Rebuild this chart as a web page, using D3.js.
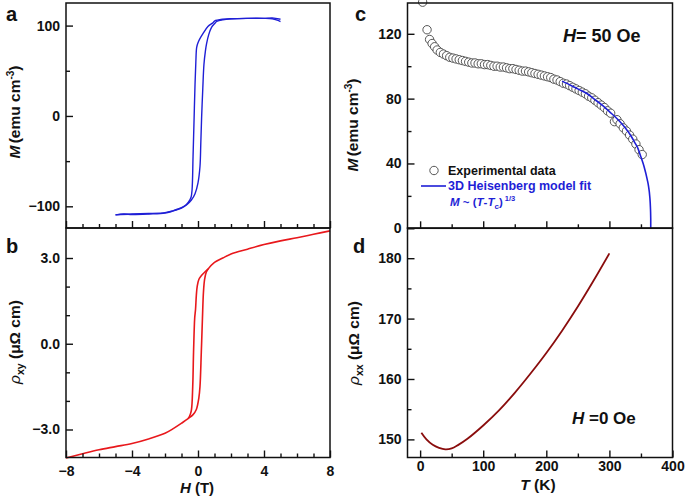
<!DOCTYPE html>
<html><head><meta charset="utf-8">
<script src="https://cdn.jsdelivr.net/npm/d3@7"></script>
<style>
body{margin:0;background:#fff}
svg text{font-family:"Liberation Sans",Arial,sans-serif;font-weight:bold;fill:#111}
</style>
</head><body>
<svg id="chart" width="685" height="500"></svg>
<script>
// ---------- Panel a: M(H) hysteresis ----------
const aAscH  = [-5,-4.5,-4,-3,-2,-1.5,-1.0,-0.7,-0.4,-0.18,0.0,0.12,0.17,0.22,0.29,0.36,0.45,0.52,0.65,0.82,1.0,1.13,1.5,2,3,4,4.5,5];
const aAscM  = [-109.5,-108.5,-109,-108.5,-107.5,-105,-102,-98.5,-93,-86,-74,-56,-30,-1,30,57,72,80,90,98,102,104.5,106.5,107.5,108,108,108.5,107];
const aDescH = [5,4.8,4.5,4,3,2,1.5,1.0,0.9,0.6,0.3,0.1,0.0,-0.08,-0.13,-0.18,-0.24,-0.3,-0.36,-0.42,-0.5,-0.7,-1.0,-1.3,-1.6,-2,-3,-4,-5];
const aDescM = [104.5,106,107.5,108,108,107.5,107,105,103,99,91,85,81,76,60,35,-5,-45,-82,-90,-93,-98,-101.5,-103.5,-105.5,-107,-108,-108.5,-109.5];
const aXMajor = [-8,-4,0,4,8];
const aXMinor = [-7,-6,-5,-3,-2,-1,1,2,3,5,6,7];
const aYMajor = [-100,0,100];
const aYMinor = [-50,50];

// ---------- Panel b: rho_xy(H) ----------
const bAscH   = [-8,-7,-6,-5,-4,-3,-2,-1.5,-1,-0.6,-0.3,-0.1,0.05,0.12,0.2,0.27,0.33,0.4,0.5,0.62,1,1.5,2,3,4,5,6,7,8];
const bAscR   = [-4.0,-3.85,-3.71,-3.6,-3.49,-3.33,-3.13,-2.97,-2.78,-2.62,-2.48,-2.3,-1.9,-1.5,-0.3,0.9,1.8,2.25,2.5,2.62,2.85,3.0,3.14,3.31,3.47,3.6,3.71,3.83,3.95];
const bDescH  = [0.62,0.4,0.2,0.05,-0.05,-0.1,-0.15,-0.2,-0.27,-0.32,-0.4,-0.5,-0.6];
const bDescR  = [2.62,2.5,2.38,2.25,2.0,1.7,1.2,0.9,-0.3,-1.5,-2.32,-2.52,-2.62];
const bXMajor = [-8,-4,0,4,8];
const bXMinor = [-7,-6,-5,-3,-2,-1,1,2,3,5,6,7];
const bYMajor = [-3,0,3];
const bYMinor = [-2,-1,1,2];

// ---------- Panel c: M(T) ----------
const cT = [4,11,15,19,23,27,32,37,42,47,52,57,62,67,72,77,82,87,92,97,102,107,112,117,122,127,132,137,142,147,152,157,162,167,172,177,182,187,192,197,202,207,212,217,222,227,232,237,242,247,252,257,262,267,272,277,282,287,292,297,302,308,312,317,322,327,332,337,342,347,352];
const cM = [139.5,122.5,116.5,114,112,110,108.5,107.5,106.5,105.5,105,104.5,104,103.5,103,102.5,102,102,101.5,101.5,101,101,100.5,100,100,99.5,99.5,99,98.5,98.5,98,97.5,97,97,96.5,96,95.5,95,94.5,94,93.5,93,92,91.5,90.5,89.5,89,88,87,86,85,84,83,81.5,80.5,79,77.5,76,74.5,72.5,71,65.8,67,64.5,62,60,57.5,55,52,48.5,45.5];
const cFitT = [225,240,250,265,275,290,300,315,325,335,340,345,350,355,360,362,364,365,365.5,365.5];
const cFitM = [90.8,88,86,83,80,75.5,72,66.5,62,56.5,53,49.5,44,38,30,26,19.5,13,6,0];
const cXMajor = [0,100,200,300];
const cXMinor = [50,150,250,350];
const cYMajor = [0,40,80,120];
const cYMinor = [20,60,100];

// ---------- Panel d: rho_xx(T) ----------
const dT = [2,10,20,30,40,50,60,75,100,125,150,175,200,225,250,275,300];
const dR = [151.1,150.0,149.1,148.6,148.35,148.5,149.05,150.1,152.3,154.8,157.7,160.9,164.3,168.0,172.0,176.3,180.8];
const dXMajor = [0,100,200,300,400];
const dXMinor = [50,150,250,350];
const dYMajor = [150,160,170,180];
const dYMinor = [155,165,175];

const BLUE = "#1f1fd6", RED = "#e8181c", DRED = "#8a0d0d";
const svg = d3.select("#chart");

function drawAxes(x, y, o) {
  const g = svg.append("g");
  const yb = y.range()[0], xl = x.range()[0];
  g.append("g").attr("transform", `translate(0,${yb})`)
    .call(d3.axisBottom(x).tickValues(o.xMajor).tickSizeInner(-7).tickSizeOuter(0).tickPadding(o.xPad || 8)
      .tickFormat(o.xLabels ? d3.format("d") : () => ""));
  g.append("g").attr("transform", `translate(0,${yb})`)
    .call(d3.axisBottom(x).tickValues(o.xMinor).tickSizeInner(-4).tickSizeOuter(0).tickFormat(() => ""));
  g.append("g").attr("transform", `translate(${xl},0)`)
    .call(d3.axisLeft(y).tickValues(o.yMajor).tickSizeInner(-7).tickSizeOuter(0).tickPadding(6).tickFormat(o.yFmt));
  g.append("g").attr("transform", `translate(${xl},0)`)
    .call(d3.axisLeft(y).tickValues(o.yMinor).tickSizeInner(-4).tickSizeOuter(0).tickFormat(() => ""));
  g.selectAll(".domain").remove();
  g.selectAll(".tick line").attr("stroke", "#111").attr("stroke-width", 1.4);
  g.selectAll(".tick text").attr("font-size", "14px").attr("font-family", "Liberation Sans, Arial, sans-serif").attr("font-weight", "bold").attr("fill", "#111");
  svg.append("rect").attr("x", x.range()[0]).attr("y", y.range()[1])
    .attr("width", x.range()[1] - x.range()[0]).attr("height", y.range()[0] - y.range()[1])
    .attr("fill", "none").attr("stroke", "#111").attr("stroke-width", 1.5);
}

// ---------- scales ----------
const xa = d3.scaleLinear([-8, 8], [66, 330]);
const ya = d3.scaleLinear([-124, 125], [228, 3]);
const xb = d3.scaleLinear([-8, 8], [66, 330]);
const yb = d3.scaleLinear([-3.98, 4.05], [457.5, 228]);
const xc = d3.scaleLinear([-20, 400], [407.5, 672.5]);
const yc = d3.scaleLinear([0, 139], [228.3, 3]);
const xd = d3.scaleLinear([-20, 400], [407.5, 672.5]);
const yd = d3.scaleLinear([147, 185], [457.5, 228]);

// ---------- panel a ----------
const lineA = d3.line().x(d => xa(d[0])).y(d => ya(d[1])).curve(d3.curveCatmullRom.alpha(0.5));
svg.append("path").datum(aAscH.map((h, i) => [h, aAscM[i]])).attr("d", lineA)
  .attr("fill", "none").attr("stroke", BLUE).attr("stroke-width", 1.4);
svg.append("path").datum(aDescH.map((h, i) => [h, aDescM[i]])).attr("d", lineA)
  .attr("fill", "none").attr("stroke", BLUE).attr("stroke-width", 1.4);
drawAxes(xa, ya, {xMajor: aXMajor, xMinor: aXMinor, yMajor: aYMajor, yMinor: aYMinor, xLabels: false, yFmt: d3.format("d")});

// ---------- panel b ----------
const lineB = d3.line().x(d => xb(d[0])).y(d => yb(d[1])).curve(d3.curveCatmullRom.alpha(0.5));
svg.append("path").datum(bAscH.map((h, i) => [h, bAscR[i]])).attr("d", lineB)
  .attr("fill", "none").attr("stroke", RED).attr("stroke-width", 1.6);
svg.append("path").datum(bDescH.map((h, i) => [h, bDescR[i]])).attr("d", lineB)
  .attr("fill", "none").attr("stroke", RED).attr("stroke-width", 1.6);
drawAxes(xb, yb, {xMajor: bXMajor, xMinor: bXMinor, yMajor: bYMajor, yMinor: bYMinor, xLabels: true, xPad: 8.5, yFmt: d3.format(".1f")});

// ---------- panel c ----------
svg.append("g").selectAll("circle").data(cT.map((t, i) => [t, cM[i]])).join("circle")
  .attr("cx", d => xc(d[0])).attr("cy", d => yc(d[1])).attr("r", 4.2)
  .attr("fill", "#fff").attr("stroke", "#444").attr("stroke-width", 0.9);
const lineC = d3.line().x(d => xc(d[0])).y(d => yc(d[1])).curve(d3.curveMonotoneX);
svg.append("path").datum(cFitT.map((t, i) => [t, cFitM[i]])).attr("d", lineC)
  .attr("fill", "none").attr("stroke", BLUE).attr("stroke-width", 1.6);
drawAxes(xc, yc, {xMajor: cXMajor, xMinor: cXMinor, yMajor: cYMajor, yMinor: cYMinor, xLabels: false, yFmt: d3.format("d")});

// ---------- panel d ----------
const lineD = d3.line().x(d => xd(d[0])).y(d => yd(d[1])).curve(d3.curveCatmullRom.alpha(0.5));
svg.append("path").datum(dT.map((t, i) => [t, dR[i]])).attr("d", lineD)
  .attr("fill", "none").attr("stroke", DRED).attr("stroke-width", 1.8);
drawAxes(xd, yd, {xMajor: dXMajor, xMinor: dXMinor, yMajor: dYMajor, yMinor: dYMinor, xLabels: true, xPad: 3.5, yFmt: d3.format("d")});

// ---------- texts ----------
function label(x, y, size, parts, opts = {}) {
  const t = svg.append("text").attr("x", x).attr("y", y).attr("font-size", size);
  if (opts.rotate) t.attr("transform", `rotate(-90,${x},${y})`);
  if (opts.anchor) t.attr("text-anchor", opts.anchor);
  if (opts.fill) t.style("fill", opts.fill);
  parts.forEach(p => {
    const s = t.append("tspan").text(p.t);
    if (p.i) s.attr("font-style", "italic");
    if (p.n) s.attr("font-weight", "normal");
    if (p.fs) s.attr("font-size", p.fs);
    if (p.dy) s.attr("dy", p.dy);
    if (p.dx) s.attr("dx", p.dx);
  });
  return t;
}
label(6, 21, 20, [{t: "a"}]);
label(6, 253, 20, [{t: "b"}]);
label(355, 21, 20, [{t: "c"}]);
label(353, 253, 20, [{t: "d"}]);

label(20, 112, 15.5, [{t: "M", i: 1}, {t: " (emu cm", dx: -2}, {t: "-3", fs: 10, dy: -6}, {t: ")", dy: 6}], {rotate: 1, anchor: "middle"});
label(20, 342, 15.5, [{t: "ρ", i: 1, n: 1}, {t: "xy", fs: 10.5, dy: 4}, {t: " (μΩ cm)", dy: -4}], {rotate: 1, anchor: "middle"});
label(358, 125, 15.5, [{t: "M", i: 1}, {t: " (emu cm", dx: -2}, {t: "-3", fs: 10, dy: -6}, {t: ")", dy: 6}], {rotate: 1, anchor: "middle"});
label(359, 343, 15.5, [{t: "ρ", i: 1, n: 1}, {t: "xx", fs: 10.5, dy: 4}, {t: " (μΩ cm)", dy: -4}], {rotate: 1, anchor: "middle"});

label(197, 493, 15, [{t: "H", i: 1}, {t: " (T)"}], {anchor: "middle"});
label(538, 490, 15.5, [{t: "T", i: 1}, {t: " (K)"}], {anchor: "middle"});

label(563, 42, 18, [{t: "H", i: 1}, {t: "= 50 Oe"}]);
label(572, 424, 17, [{t: "H", i: 1}, {t: " =0 Oe"}]);

svg.append("circle").attr("cx", 434).attr("cy", 170.5).attr("r", 4.2).attr("fill", "#fff").attr("stroke", "#444").attr("stroke-width", 0.9);
label(448, 175, 12.5, [{t: "Experimental data"}]);
svg.append("line").attr("x1", 421).attr("x2", 446).attr("y1", 186).attr("y2", 186).attr("stroke", BLUE).attr("stroke-width", 1.6);
label(448, 189.5, 12.5, [{t: "3D Heisenberg model fit"}], {fill: BLUE});
label(450, 206, 11.5, [{t: "M", i: 1}, {t: " ~ ("}, {t: "T", i: 1}, {t: "-"}, {t: "T", i: 1}, {t: "c", fs: 8, dy: 3}, {t: ")", dy: -3}, {t: " 1/3", fs: 7.5, dy: -5}], {fill: BLUE});
</script>
</body></html>
